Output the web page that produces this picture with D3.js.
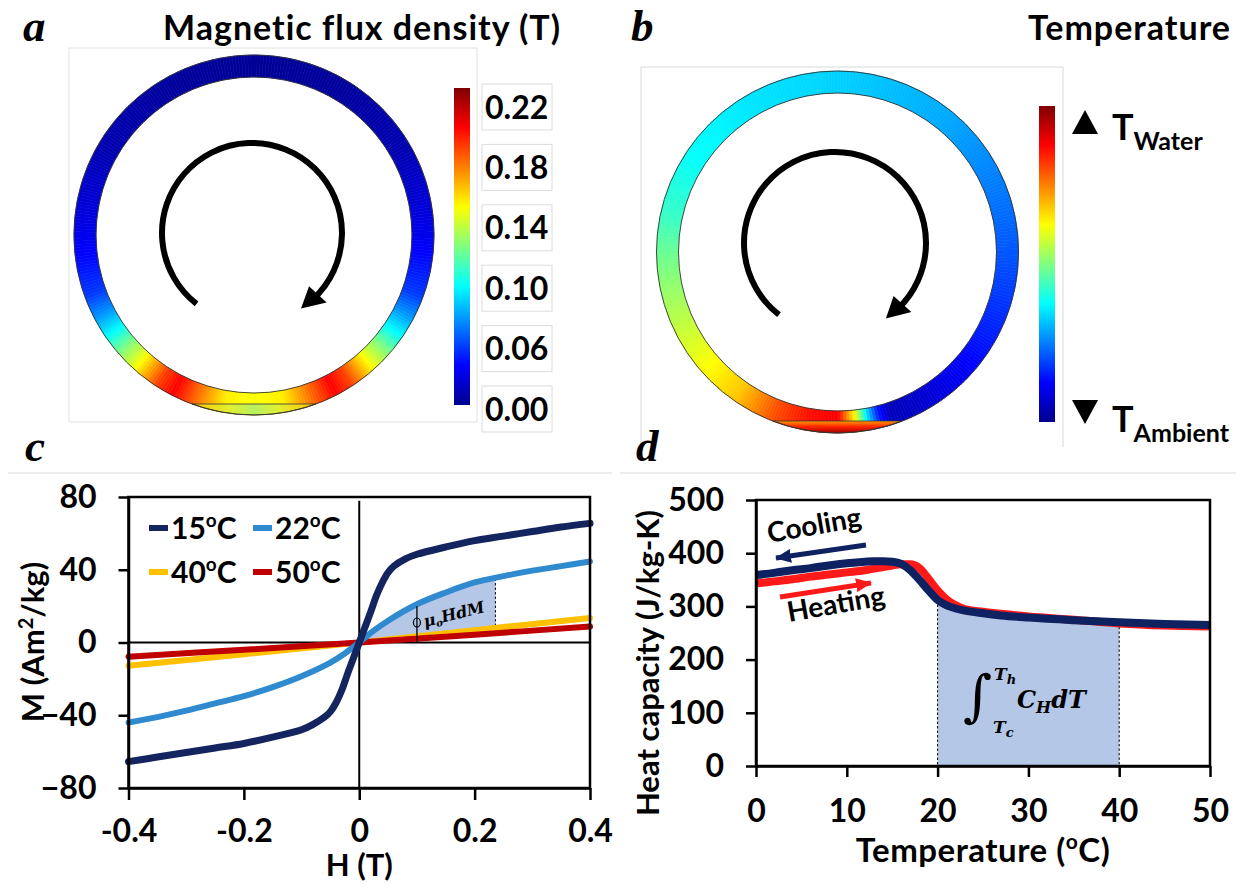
<!DOCTYPE html>
<html>
<head>
<meta charset="utf-8">
<script src="https://cdn.jsdelivr.net/npm/d3@7"></script>
<style>
  body { margin: 0; background: #fff; }
  text { font-family: Lato, "Open Sans", sans-serif; font-weight: bold; }
</style>
</head>
<body>
<script>
var width = 1236,
    height = 884;

// ---- data ----
// panel a: flux density (T) along the ring, angle from bottom (deg), symmetric
var fluxAngles = [0, 10, 18, 27, 33, 38, 43, 49, 55, 62, 70, 90, 120, 150, 180];
var fluxValues = [0.145, 0.15, 0.175, 0.205, 0.19, 0.165, 0.14, 0.117, 0.09, 0.065, 0.042, 0.024, 0.009, 0.004, 0.002];
var fluxTicks = ["0.22", "0.18", "0.14", "0.10", "0.06", "0.00"];

// panel b: normalised temperature along the ring, angle from bottom (deg, + = left side)
var tempAngles = [-180, -140, -90, -60, -40, -25, -18, -14, -10, -6, 0, 10, 21, 35, 52, 69, 90, 102, 123, 150, 180];
var tempLevels = [0.33, 0.29, 0.21, 0.15, 0.10, 0.06, 0.05, 0.15, 0.35, 0.62, 0.88, 0.86, 0.8, 0.68, 0.61, 0.55, 0.48, 0.43, 0.38, 0.35, 0.33];

// panel c: magnetisation curves
var h15 = [-0.4, -0.35, -0.3, -0.25, -0.2, -0.15, -0.1, -0.08, -0.06, -0.05, -0.04, -0.03, -0.02, -0.01, 0,
           0.01, 0.02, 0.03, 0.04, 0.05, 0.06, 0.08, 0.1, 0.15, 0.2, 0.25, 0.3, 0.35, 0.4];
var m15 = [-65.5, -63, -60.5, -58, -55.5, -52, -48, -45, -41, -38, -33, -26, -17, -8.5, 0,
           8.5, 17, 26, 33, 38.5, 42, 46, 48.5, 52.5, 56, 58.5, 61, 63.5, 65.5];
var h22 = [-0.4, -0.35, -0.3, -0.25, -0.2, -0.15, -0.1, -0.05, -0.025, 0, 0.025, 0.05, 0.1, 0.15, 0.2, 0.25, 0.3, 0.35, 0.4];
var m22 = [-44, -41, -37.5, -33.5, -29.5, -24.5, -18.5, -11, -6, 0, 6.5, 12, 21, 27.5, 33, 36.5, 39.5, 42, 44.5];
var h40 = [-0.4, -0.2, 0, 0.2, 0.4];
var m40 = [-12.8, -6.5, 0, 6.8, 13.5];
var h50 = [-0.4, -0.2, 0, 0.2, 0.4];
var m50 = [-7.8, -4, 0, 4.3, 8.8];
var hTicks = [-0.4, -0.2, 0, 0.2, 0.4];
var hTickLabels = ["-0.4", "-0.2", "0", "0.2", "0.4"];
var mTicks = [-80, -40, 0, 40, 80];
var legendNames = ["15", "22", "40", "50"];
var legendColors = ["#13245e", "#2f8ad0", "#ffc000", "#c00000"];

// panel d: heat capacity
var tempC = [0, 2, 4, 6, 8, 10, 12, 13, 14, 15, 16, 17, 18, 19, 20, 21, 22, 23, 25, 27, 30, 35, 40, 45, 50];
var cooling = [359, 363, 368, 372, 377, 381, 384, 385, 385, 384, 380, 368, 350, 330, 312, 302, 296, 292, 287, 283, 279, 274, 270, 267, 265];
var heating = [343, 347, 351, 356, 360, 364, 368, 371, 374, 377, 379, 379, 372, 352, 330, 313, 302, 295, 290, 286, 281, 275, 268, 264, 262];
var tTicks = [0, 10, 20, 30, 40, 50];
var cTicks = [0, 100, 200, 300, 400, 500];

// jet colour map
var jetStops = [0, 0.125, 0.375, 0.5, 0.625, 0.875, 1];
var jetColors = ["#00008f", "#0000ff", "#00ffff", "#80ff80", "#ffff00", "#ff0000", "#800000"];
var jet = d3.scaleLinear().domain(jetStops).range(jetColors).clamp(true);

var svg = d3.select("body")
            .append("svg")
            .attr("width", width)
            .attr("height", height);

svg.append("rect").attr("width", width).attr("height", height).attr("fill", "#fff");

var defs = svg.append("defs");

var cbar = defs.append("linearGradient").attr("id", "jetBar")
   .attr("x1", 0).attr("y1", 1).attr("x2", 0).attr("y2", 0);
cbar.selectAll("stop").data(jetStops).enter().append("stop")
   .attr("offset", function(d) { return d; })
   .attr("stop-color", function(d, i) { return jetColors[i]; });

var chordA = defs.append("linearGradient").attr("id", "chordA");
chordA.selectAll("stop").data([[0, "#ffc400"], [0.3, "#e0f030"], [0.5, "#b8f060"], [0.7, "#e0f030"], [1, "#ffc000"]])
   .enter().append("stop")
   .attr("offset", function(d) { return d[0]; })
   .attr("stop-color", function(d) { return d[1]; });

var chordB = defs.append("linearGradient").attr("id", "chordB")
   .attr("x1", 0).attr("y1", 0).attr("x2", 0).attr("y2", 1);
chordB.selectAll("stop").data([[0, "#ff9a00"], [0.5, "#ff2000"], [1, "#a00000"]])
   .enter().append("stop")
   .attr("offset", function(d) { return d[0]; })
   .attr("stop-color", function(d) { return d[1]; });

var arrowDefs = [["arrNavy", "#0e2262"], ["arrRed", "#ff1a1a"]];
arrowDefs.forEach(function(a) {
  defs.append("marker").attr("id", a[0])
      .attr("viewBox", "0 0 16 14").attr("markerUnits", "userSpaceOnUse")
      .attr("markerWidth", 16).attr("markerHeight", 14)
      .attr("refX", 15).attr("refY", 7).attr("orient", "auto")
    .append("path").attr("d", "M0,0L16,7L0,14z").attr("fill", a[1]);
});

// ---- helpers ----
function drawRing(g, cx, cy, rIn, rOut, levelAt) {
  var n = 360;
  var arc = d3.arc().innerRadius(rIn).outerRadius(rOut);
  var colorAt = function(i) { return jet(levelAt((i + 0.5) * 360 / n - 180)); };
  g.selectAll("path.seg").data(d3.range(n)).enter().append("path")
   .attr("class", "seg")
   .attr("transform", "translate(" + cx + "," + cy + ")")
   .attr("d", function(i) {
      return arc({startAngle: i * 2 * Math.PI / n, endAngle: (i + 1) * 2 * Math.PI / n});
   })
   .attr("fill", colorAt)
   .attr("stroke", colorAt)
   .attr("stroke-width", 0.6);
}

function ringOutline(g, cx, cy, rIn, rOut, chordY, fillId) {
  var dx = Math.sqrt(rOut * rOut - (chordY - cy) * (chordY - cy));
  g.append("path")
   .attr("d", "M" + (cx - dx) + "," + chordY + "A" + rOut + "," + rOut + " 0 0 0 " + (cx + dx) + "," + chordY + "Z")
   .attr("fill", "url(#" + fillId + ")")
   .attr("stroke", "#333").attr("stroke-width", 0.8);
  [rIn, rOut].forEach(function(r) {
    g.append("circle").attr("cx", cx).attr("cy", cy).attr("r", r)
     .attr("fill", "none").attr("stroke", "#333").attr("stroke-width", 0.9);
  });
}

function circArrow(g, cx, cy, r, a0, a1) {
  var rad = Math.PI / 180,
      ha = 22 / r,
      end = a1 * rad;
  var p = d3.path();
  p.arc(cx, cy, r, a0 * rad, end - ha * 0.7, false);
  g.append("path").attr("d", p.toString())
   .attr("fill", "none").attr("stroke", "#000").attr("stroke-width", 6);
  var tip = [cx + r * Math.cos(end), cy + r * Math.sin(end)];
  var b = end - ha;
  var bc = [cx + r * Math.cos(b), cy + r * Math.sin(b)];
  var u = [Math.cos(b), Math.sin(b)];
  g.append("path")
   .attr("d", "M" + tip + "L" + (bc[0] + 12 * u[0]) + "," + (bc[1] + 12 * u[1]) +
              "L" + (bc[0] - 12 * u[0]) + "," + (bc[1] - 12 * u[1]) + "Z")
   .attr("fill", "#000");
}

function panelLabel(x, y, t) {
  svg.append("text").attr("x", x).attr("y", y).text(t)
     .style("font-family", "'Liberation Serif', serif")
     .style("font-style", "italic")
     .attr("font-size", 45);
}

// ---- panel a ----
var ga = svg.append("g");
ga.append("rect").attr("x", 69).attr("y", 48).attr("width", 408).attr("height", 374)
  .attr("fill", "none").attr("stroke", "#e2e2e2");

var fluxScale = d3.scaleLinear().domain(fluxAngles).range(fluxValues);
var fluxNorm = d3.scaleLinear().domain([0, 0.234]).range([0, 1]);
drawRing(ga, 254, 235, 158, 180, function(t) { return fluxNorm(fluxScale(Math.abs(t))); });
ringOutline(ga, 254, 235, 158, 180, 404, "chordA");
circArrow(ga, 252, 233, 90, 128, 417);

ga.append("rect").attr("x", 454).attr("y", 88).attr("width", 16).attr("height", 317)
  .attr("fill", "url(#jetBar)");

var fluxTickY = d3.scalePoint().domain(fluxTicks).range([107, 409]);
fluxTicks.forEach(function(t) {
  ga.append("rect").attr("x", 482).attr("y", fluxTickY(t) - 23).attr("width", 70).attr("height", 46)
    .attr("fill", "#fff").attr("stroke", "#dcdcdc");
  ga.append("text").attr("x", 485).attr("y", fluxTickY(t)).attr("dy", "0.36em")
    .attr("font-size", 32).text(t);
});

panelLabel(23, 41, "a");
ga.append("text").attr("x", 163).attr("y", 40).attr("font-size", 34)
  .attr("letter-spacing", 1).text("Magnetic flux density (T)");

// ---- panel b ----
var gb = svg.append("g");
gb.append("path").attr("d", "M641,447V67H1063V447")
  .attr("fill", "none").attr("stroke", "#d8d8d8");

var tempScale = d3.scaleLinear().domain(tempAngles).range(tempLevels);
drawRing(gb, 837.5, 252, 159, 181, function(t) { return tempScale(t); });
ringOutline(gb, 837.5, 252, 159, 181, 421, "chordB");
circArrow(gb, 835, 243, 91, 128, 416);

gb.append("rect").attr("x", 1039).attr("y", 106).attr("width", 16).attr("height", 316)
  .attr("fill", "url(#jetBar)");

gb.append("path").attr("d", "M1085,110L1098,134L1072,134Z").attr("fill", "#000");
gb.append("path").attr("d", "M1085,424L1098,400L1072,400Z").attr("fill", "#000");
var tw = gb.append("text").attr("x", 1112).attr("y", 140).attr("font-size", 36);
tw.append("tspan").text("T");
tw.append("tspan").attr("font-size", 25).attr("dy", 10).text("Water");
var ta = gb.append("text").attr("x", 1112).attr("y", 432).attr("font-size", 36);
ta.append("tspan").text("T");
ta.append("tspan").attr("font-size", 25).attr("dy", 10).text("Ambient");

panelLabel(631, 41, "b");
gb.append("text").attr("x", 1231).attr("y", 40).attr("text-anchor", "end")
  .attr("font-size", 34).attr("letter-spacing", 1).text("Temperature");

// separators
svg.append("line").attr("x1", 8).attr("x2", 612).attr("y1", 473).attr("y2", 473)
   .attr("stroke", "#d8d8d8");
svg.append("line").attr("x1", 620).attr("x2", 1236).attr("y1", 473).attr("y2", 473)
   .attr("stroke", "#d8d8d8");

// ---- panel c ----
var xC = d3.scaleLinear().domain([-0.4, 0.4]).range([128.5, 590]);
var yC = d3.scaleLinear().domain([-80, 80]).range([788, 497]);
var gc = svg.append("g");

var curve22 = d3.scaleLinear().domain(h22).range(m22);
var curve40 = d3.scaleLinear().domain(h40).range(m40);
var regionH = h22.filter(function(h) { return h >= 0 && h <= 0.236; }).concat([0.236]);
var regionArea = d3.area()
   .x(function(h) { return xC(h); })
   .y0(function(h) { return yC(curve40(h)); })
   .y1(function(h) { return yC(curve22(h)); })
   .curve(d3.curveMonotoneX);
gc.append("path").datum(regionH).attr("d", regionArea)
  .attr("fill", "#b4c7e7").attr("stroke", "#000").attr("stroke-width", 1)
  .attr("stroke-dasharray", "2.5,2");

// zero lines
gc.append("line").attr("x1", xC(-0.4)).attr("x2", xC(0.4)).attr("y1", yC(0)).attr("y2", yC(0))
  .attr("stroke", "#000").attr("stroke-width", 2);
gc.append("line").attr("x1", xC(0)).attr("x2", xC(0)).attr("y1", yC(78)).attr("y2", yC(-80))
  .attr("stroke", "#000").attr("stroke-width", 2);

var lineC = d3.line()
   .x(function(d) { return xC(d[0]); })
   .y(function(d) { return yC(d[1]); })
   .curve(d3.curveCatmullRom.alpha(0.5));
var seriesC = [[h40, m40, 2, 6], [h50, m50, 3, 6], [h22, m22, 1, 6], [h15, m15, 0, 7]];
seriesC.forEach(function(s) {
  gc.append("path").datum(d3.zip(s[0], s[1])).attr("d", lineC)
    .attr("fill", "none").attr("stroke", legendColors[s[2]]).attr("stroke-width", s[3])
    .attr("stroke-linejoin", "round").attr("stroke-linecap", "round");
});

// mu0 H dM annotation
var hMark = 0.1;
gc.append("line").attr("x1", xC(hMark)).attr("x2", xC(hMark))
  .attr("y1", yC(curve22(hMark)) + 2).attr("y2", yC(0))
  .attr("stroke", "#000").attr("stroke-width", 1.3);
gc.append("ellipse").attr("cx", xC(hMark)).attr("cy", yC(11)).attr("rx", 3.5).attr("ry", 4.5)
  .attr("fill", "none").attr("stroke", "#000").attr("stroke-width", 1.2);
var mu = gc.append("text").attr("transform", "translate(425,627) rotate(-14)")
  .style("font-family", "'DejaVu Serif', serif").style("font-style", "italic")
  .attr("font-size", 16);
mu.append("tspan").text("μ");
mu.append("tspan").attr("font-size", 10).attr("dy", 3).text("o");
mu.append("tspan").attr("dy", -3).text("HdM");

gc.append("rect").attr("x", xC(-0.4)).attr("y", yC(80)).attr("width", xC(0.4) - xC(-0.4))
  .attr("height", yC(-80) - yC(80)).attr("fill", "none").attr("stroke", "#000").attr("stroke-width", 2.5);

var axC_x = gc.append("g").attr("transform", "translate(0," + yC(-80) + ")")
  .call(d3.axisBottom(xC).tickValues(hTicks)
          .tickFormat(function(d, i) { return hTickLabels[i]; })
          .tickSize(12).tickSizeOuter(0).tickPadding(19));
var axC_y = gc.append("g").attr("transform", "translate(" + xC(-0.4) + ",0)")
  .call(d3.axisLeft(yC).tickValues(mTicks).tickSize(10).tickSizeOuter(0).tickPadding(22));
[axC_x, axC_y].forEach(function(ax) {
  ax.attr("font-family", null).attr("font-size", 32);
  ax.selectAll("path, line").attr("stroke", "#000").attr("stroke-width", 2.5);
  ax.selectAll("text").attr("fill", "#000");
});

gc.append("text").attr("x", xC(0)).attr("y", 876).attr("text-anchor", "middle")
  .attr("font-size", 31).text("H (T)");
var yt = gc.append("text").attr("transform", "translate(44,642) rotate(-90)")
  .attr("text-anchor", "middle").attr("font-size", 31);
yt.append("tspan").text("M (Am");
yt.append("tspan").attr("font-size", 20).attr("dy", -11).text("2");
yt.append("tspan").attr("dy", 11).text("/kg)");

// legend
var legPos = [[149, 528], [253, 528], [149, 572], [253, 572]];
legendNames.forEach(function(n, i) {
  var p = legPos[i];
  gc.append("line").attr("x1", p[0]).attr("x2", p[0] + 19).attr("y1", p[1]).attr("y2", p[1])
    .attr("stroke", legendColors[i]).attr("stroke-width", 6);
  var t = gc.append("text").attr("x", p[0] + 22).attr("y", p[1] + 11).attr("font-size", 30);
  t.append("tspan").text(n);
  t.append("tspan").attr("font-size", 19).attr("dy", -12).text("o");
  t.append("tspan").attr("dy", 12).text("C");
});

panelLabel(25, 461, "c");

// ---- panel d ----
var xD = d3.scaleLinear().domain([0, 50]).range([756, 1210]);
var yD = d3.scaleLinear().domain([0, 500]).range([766, 500]);
var gd = svg.append("g");

var coolPts = d3.zip(tempC, cooling);
var heatPts = d3.zip(tempC, heating);
var regionPts = coolPts.filter(function(d) { return d[0] >= 20 && d[0] <= 40; });
gd.append("path").datum(regionPts)
  .attr("d", d3.area().x(function(d) { return xD(d[0]); })
               .y0(yD(0)).y1(function(d) { return yD(d[1]); })
               .curve(d3.curveMonotoneX))
  .attr("fill", "#b4c7e7");
[20, 40].forEach(function(t) {
  var c = cooling[tempC.indexOf(t)];
  gd.append("line").attr("x1", xD(t)).attr("x2", xD(t)).attr("y1", yD(c)).attr("y2", yD(0))
    .attr("stroke", "#000").attr("stroke-width", 1).attr("stroke-dasharray", "2.5,2");
});

var lineD = d3.line()
   .x(function(d) { return xD(d[0]); })
   .y(function(d) { return yD(d[1]); })
   .curve(d3.curveMonotoneX);
gd.append("path").datum(heatPts).attr("d", lineD)
  .attr("fill", "none").attr("stroke", "#ff1a1a").attr("stroke-width", 8);
gd.append("path").datum(coolPts).attr("d", lineD)
  .attr("fill", "none").attr("stroke", "#0e2262").attr("stroke-width", 8);

gd.append("rect").attr("x", xD(0)).attr("y", yD(500)).attr("width", xD(50) - xD(0))
  .attr("height", yD(0) - yD(500)).attr("fill", "none").attr("stroke", "#000").attr("stroke-width", 2.5);

var axD_x = gd.append("g").attr("transform", "translate(0," + yD(0) + ")")
  .call(d3.axisBottom(xD).tickValues(tTicks).tickSize(11).tickSizeOuter(0).tickPadding(22));
var axD_y = gd.append("g").attr("transform", "translate(" + xD(0) + ",0)")
  .call(d3.axisLeft(yD).tickValues(cTicks).tickSize(10).tickSizeOuter(0).tickPadding(22));
[axD_x, axD_y].forEach(function(ax) {
  ax.attr("font-family", null).attr("font-size", 32);
  ax.selectAll("path, line").attr("stroke", "#000").attr("stroke-width", 2.5);
  ax.selectAll("text").attr("fill", "#000");
});

var xt = gd.append("text").attr("x", 983).attr("y", 862).attr("text-anchor", "middle")
  .attr("font-size", 33).attr("letter-spacing", 0.5);
xt.append("tspan").text("Temperature (");
xt.append("tspan").attr("font-size", 21).attr("dy", -13).text("o");
xt.append("tspan").attr("dy", 13).text("C)");
gd.append("text").attr("transform", "translate(659,663) rotate(-90)")
  .attr("text-anchor", "middle").attr("font-size", 31).text("Heat capacity (J/kg-K)");

// cooling / heating arrows
gd.append("line").attr("x1", 866).attr("y1", 545).attr("x2", 776).attr("y2", 558)
  .attr("stroke", "#0e2262").attr("stroke-width", 5).attr("marker-end", "url(#arrNavy)");
gd.append("line").attr("x1", 780).attr("y1", 597).attr("x2", 871).attr("y2", 583)
  .attr("stroke", "#ff1a1a").attr("stroke-width", 5).attr("marker-end", "url(#arrRed)");
gd.append("text").attr("transform", "translate(769,543) rotate(-10)")
  .attr("font-size", 28).text("Cooling");
gd.append("text").attr("transform", "translate(789,622) rotate(-10)")
  .attr("font-size", 28).text("Heating");

// integral annotation
var serif = "'DejaVu Serif', serif";
gd.append("text").attr("x", 963).attr("y", 715).attr("font-size", 56)
  .style("font-family", serif).style("font-weight", "normal").text("∫");
var th = gd.append("text").attr("x", 994).attr("y", 680).attr("font-size", 17)
  .style("font-family", serif).style("font-style", "italic");
th.append("tspan").text("T");
th.append("tspan").attr("font-size", 13).attr("dy", 4).text("h");
var tc = gd.append("text").attr("x", 993).attr("y", 733).attr("font-size", 17)
  .style("font-family", serif).style("font-style", "italic");
tc.append("tspan").text("T");
tc.append("tspan").attr("font-size", 13).attr("dy", 4).text("c");
var ch = gd.append("text").attr("x", 1017).attr("y", 708).attr("font-size", 24)
  .style("font-family", serif).style("font-style", "italic");
ch.append("tspan").text("C");
ch.append("tspan").attr("font-size", 16).attr("dy", 5).text("H");
ch.append("tspan").attr("dy", -5).text("dT");

panelLabel(636, 461, "d");
</script>
</body>
</html>
